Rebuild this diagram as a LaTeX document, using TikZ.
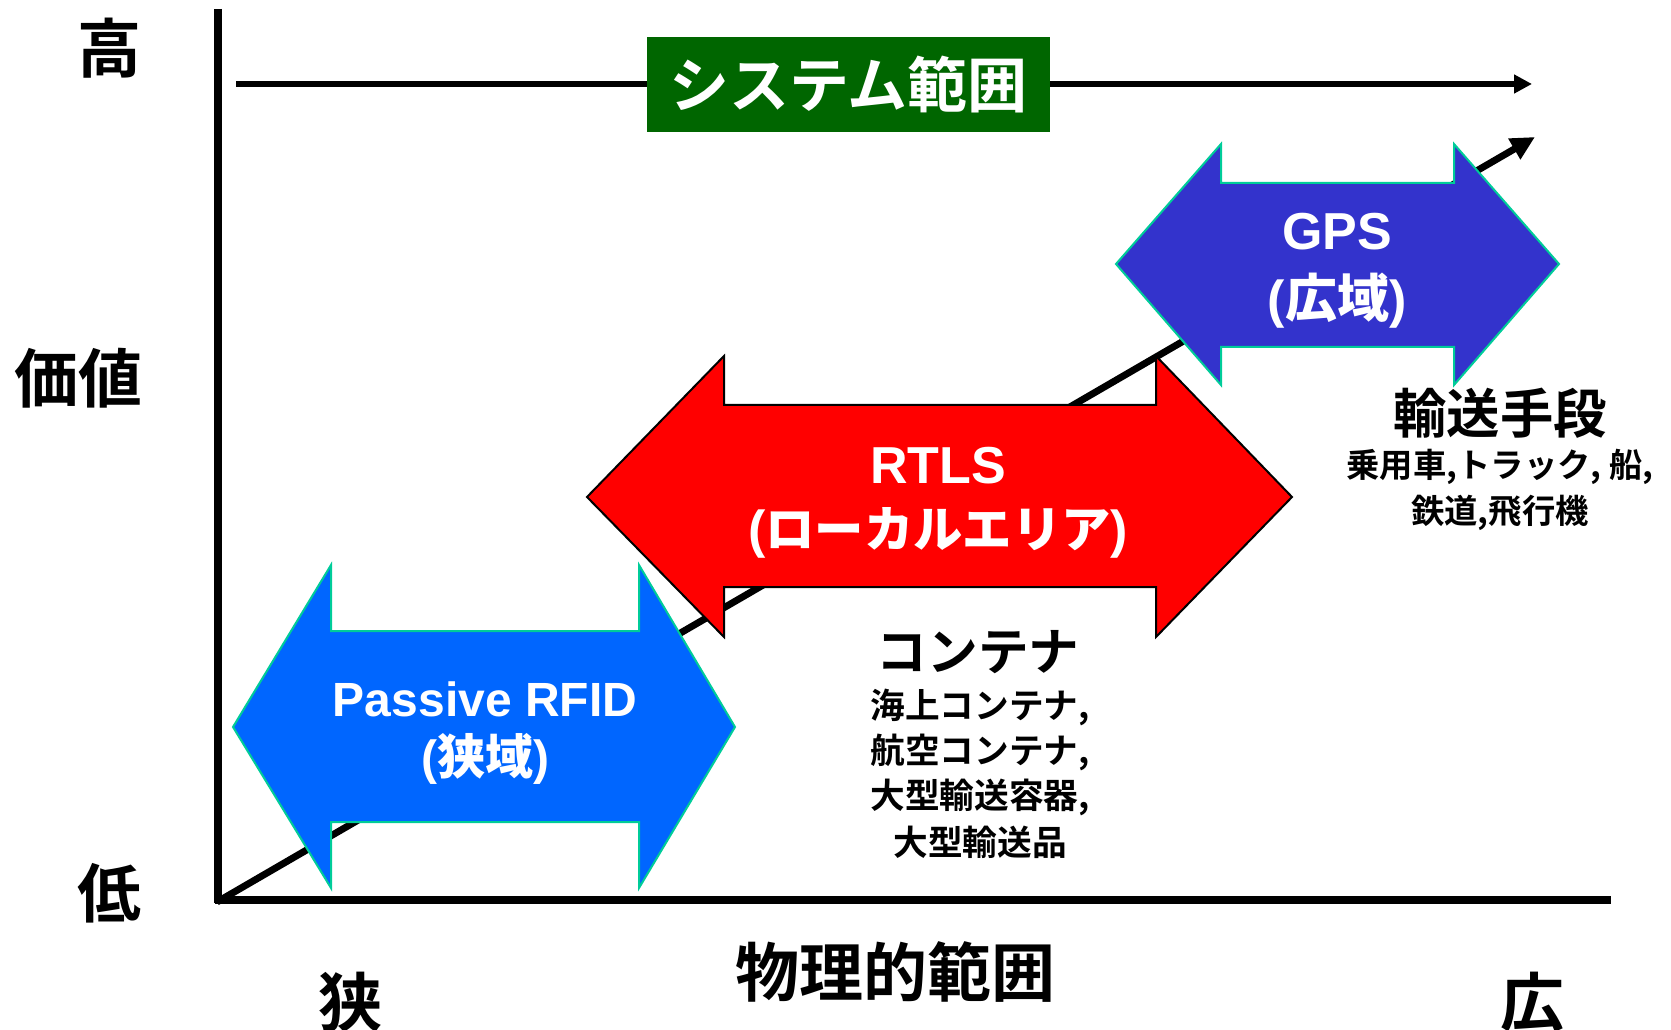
\documentclass[tikz,border=0pt]{standalone}
\usepackage{fontspec}
\setmainfont{Liberation Sans}
\newfontfamily\jp{Noto Sans CJK JP Bold}
\usetikzlibrary{arrows.meta}
\definecolor{rfidblue}{HTML}{0066FF}
\definecolor{gpsblue}{HTML}{3333CC}
\definecolor{tealedge}{HTML}{00CC99}
\definecolor{sysgreen}{HTML}{006600}
\newcommand\fs[1]{\fontsize{#1}{#1}\selectfont}
\tikzset{
  axisline/.style={line width=5.5pt},
  axislabel/.style={font=\jp\fs{48}, inner sep=0pt},
  boxtext/.style={text=white, font=\bfseries, inner sep=0pt, align=center},
  catlabel/.style={font=\jp, inner sep=0pt, align=center},
  rfidarrow/.style={fill=rfidblue, draw=tealedge, line width=1.5pt, line join=miter},
  rtlsarrow/.style={fill=red, draw=black, line width=1.5pt, line join=miter},
  gpsarrow/.style={fill=gpsblue, draw=tealedge, line width=1.5pt, line join=miter},
}
\begin{document}
\begin{tikzpicture}[x=0.75pt, y=-0.75pt]
\useasboundingbox (0,0) rectangle (1671,1030);

% axes
\coordinate (origin) at (217,902);
\coordinate (ytop) at (218,9);
\coordinate (xend) at (1611,900);
\draw[axisline] (ytop) -- (218,903);
\draw[axisline] (215,900) -- (xend);

% diagonal trend arrow
\coordinate (diagend) at (1535,137);
\draw[line width=5.2pt, -{Triangle[length=18pt,width=17pt]}] (origin) -- (diagend);

% system range arrow
\coordinate (sysstart) at (236,84);
\coordinate (sysend) at (1532,84);
\draw[line width=4.5pt, -{Triangle[length=13.5pt,width=13.5pt]}] (sysstart) -- (sysend);
\node[fill=sysgreen, minimum width=302pt, minimum height=71pt, inner sep=0pt,
      text=white, font=\jp\fs{45}] (sysbox) at (848.5,84.5) {システム範囲};

% Passive RFID double arrow
\draw[rfidarrow] (233,727) -- (331,565) -- (331,631) -- (639,631) -- (639,565)
  -- (735,727) -- (639,888) -- (639,822) -- (331,822) -- (331,888) -- cycle;
\node[boxtext, font=\bfseries\fs{36}] (rfid) at (485,699) {Passive RFID};
\node[boxtext, font=\bfseries\fs{36}] (rfidsub) at (485,759) {({\jp 狭域})};

% RTLS double arrow
\draw[rtlsarrow] (587,497) -- (724,356) -- (724,405) -- (1156,405) -- (1156,356)
  -- (1292,497) -- (1156,637) -- (1156,587) -- (724,587) -- (724,637) -- cycle;
\node[boxtext, font=\bfseries\fs{39}] (rtls) at (938,466) {RTLS};
\node[boxtext, font=\bfseries\fs{39}] (rtlssub) at (938,533) {({\jp\fs{37}ローカルエリア})};

% GPS double arrow
\draw[gpsarrow] (1116,264) -- (1221,144) -- (1221,183) -- (1454,183) -- (1454,144)
  -- (1559,264) -- (1454,385) -- (1454,347) -- (1221,347) -- (1221,385) -- cycle;
\node[boxtext, font=\bfseries\fs{39}] (gps) at (1337,232) {GPS};
\node[boxtext, font=\bfseries\fs{39}] (gpssub) at (1337,301) {({\jp 広域})};

% axis labels
\node[axislabel] (high) at (109,48) {高};
\node[axislabel] (value) at (78,378) {価値};
\node[axislabel] (low) at (109,893) {低};
\node[axislabel] (narrow) at (350,1002) {狭};
\node[axislabel] (phys) at (895,972) {物理的範囲};
\node[axislabel] (wide) at (1532,1002) {広};

% transport labels
\node[catlabel, font=\jp\fs{40}] (trans) at (1500,413) {輸送手段};
\node[catlabel, font=\jp\fs{25}] (trans1) at (1500,467) {乗用車,トラック, 船,};
\node[catlabel, font=\jp\fs{25}] (trans2) at (1500,513) {鉄道,飛行機};

% container labels
\node[catlabel, font=\jp\fs{38}] (cont) at (978,652) {コンテナ};
\node[catlabel, font=\jp\fs{26}] (cont1) at (980,707) {海上コンテナ,};
\node[catlabel, font=\jp\fs{26}] (cont2) at (980,752) {航空コンテナ,};
\node[catlabel, font=\jp\fs{26}] (cont3) at (980,797) {大型輸送容器,};
\node[catlabel, font=\jp\fs{26}] (cont4) at (980,842) {大型輸送品};
\end{tikzpicture}
\end{document}
